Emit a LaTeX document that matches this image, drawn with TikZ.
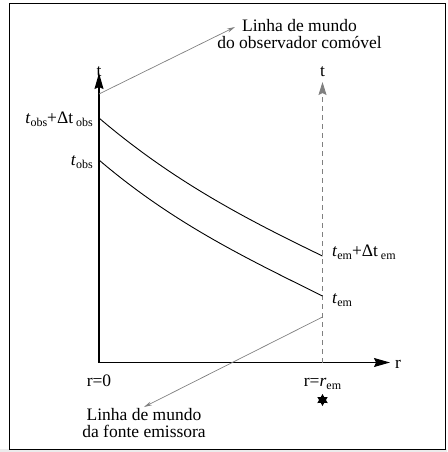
\documentclass[tikz,border=0pt]{standalone}
\usepackage{fontspec}
\setmainfont{Liberation Serif}
\usetikzlibrary{arrows.meta,shapes.geometric}
\newcommand\lsub[1]{\raisebox{-3.5pt}{\fontsize{12}{12}\selectfont #1}}
\begin{document}
\begin{tikzpicture}[x=1pt,y=-1pt,
  lbl/.style={inner sep=0pt, font=\fontsize{17.5}{13.3}\selectfont},
  axis/.style={line width=1.2pt, -{Stealth[length=16pt,width=9pt,inset=2pt]}},
  wl/.style={line width=0.9pt},
  ptr/.style={gray, line width=0.7pt, -{Stealth[length=8pt,width=4pt]}}]
\useasboundingbox (0,0) rectangle (447,452);
\fill[gray!15] (0,449) rectangle (447,452);
\draw[line width=1pt] (9,4) rectangle (445,449);
\coordinate (O) at (99,362.5);
\coordinate (Ty) at (99,73);
\coordinate (Rx) at (390,362.5);
\coordinate (E0) at (322.5,362.5);
\coordinate (Ey) at (322.5,82);
\draw[axis] (O) -- (Ty);
\draw[axis] (O) -- (Rx);
\draw[gray, line width=0.9pt, dash pattern=on 5pt off 4pt, -{Stealth[length=13pt,width=8pt,inset=2pt]}] (E0) -- (Ey);
\coordinate (A1) at (99,118);
\coordinate (A2) at (322.5,256);
\coordinate (B1) at (99,160);
\coordinate (B2) at (322.5,296);
\draw[wl] (A1) .. controls (174,182) and (248,220) .. (A2);
\draw[wl] (B1) .. controls (174,224) and (248,259) .. (B2);
\coordinate (P1) at (99,94);
\coordinate (P2) at (235,27);
\draw[ptr] (P1) -- (P2);
\coordinate (Q1) at (322.5,317);
\coordinate (Q2) at (144,407);
\draw[ptr] (Q1) -- (Q2);
\node[lbl, anchor=base] (tl) at (99,76) {t};
\node[lbl, anchor=base] (tr) at (322.5,76) {t};
\node[lbl, anchor=base] (rl) at (398,368.5) {r};
\node[lbl, anchor=base] (r0) at (99,386) {r=0};
\node[lbl, anchor=base] (rem) at (322.5,386) {r=\textit{r}\lsub{em}};
\node[star, star points=6, star point ratio=1.75, fill=black, minimum size=12pt, inner sep=0pt] (src) at (322.5,400) {};
\node[lbl, anchor=base east] (tobs2) at (93,123) {\textit{t}\lsub{obs}+Δt\,\lsub{obs}};
\node[lbl, anchor=base east] (tobs) at (93,165) {\textit{t}\lsub{obs}};
\node[lbl, anchor=base west] (tem2) at (332,256) {\textit{t}\lsub{em}+Δt\,\lsub{em}};
\node[lbl, anchor=base west] (tem) at (332,303) {\textit{t}\lsub{em}};
\node[lbl, align=center, anchor=base, font=\fontsize{17.5}{16.5}\selectfont] (obs) at (299.5,48.5) {Linha de mundo\\do observador comóvel};
\node[lbl, align=center, anchor=base, font=\fontsize{17.5}{16.6}\selectfont] (fs) at (144,437.3) {Linha de mundo\\da fonte emissora};
\end{tikzpicture}
\end{document}
